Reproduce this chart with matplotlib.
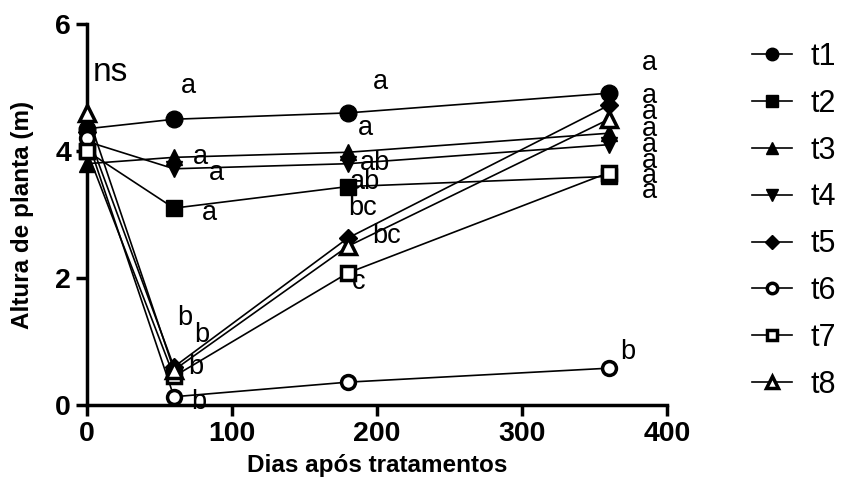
import matplotlib.pyplot as plt

plt.rcParams['font.family'] = ['Liberation Sans', 'DejaVu Sans']

# days after treatment
dias = [0, 60, 180, 360]

t1 = [4.35, 4.50, 4.60, 4.91]
t2 = [4.00, 3.10, 3.44, 3.60]
t3 = [3.80, 3.90, 3.98, 4.28]
t4 = [4.15, 3.72, 3.80, 4.10]
t5 = [4.30, 0.60, 2.63, 4.72]
t6 = [4.20, 0.13, 0.36, 0.58]
t7 = [4.00, 0.45, 2.08, 3.66]
t8 = [4.60, 0.55, 2.50, 4.50]

series = [t1, t2, t3, t4, t5, t6, t7, t8]
nomes = ['t1', 't2', 't3', 't4', 't5', 't6', 't7', 't8']
marcadores = ['o', 's', '^', 'v', 'D', 'o', 's', '^']
cheio = [True, True, True, True, True, False, False, False]
tamanhos = [12, 11, 11, 11, 9, 11, 11, 12]

# letras do teste de medias (x, y, texto)
letras_x = [4, 65, 73, 84, 79, 62, 74, 70, 72,
            197, 187, 188, 181, 180, 197, 183,
            383, 383, 383, 383, 383, 383, 383, 383, 368]
letras_y = [5.23, 5.02, 3.90, 3.65, 3.02, 1.37, 1.10, 0.60, 0.04,
            5.09, 4.36, 3.81, 3.51, 3.10, 2.66, 1.94,
            5.39, 4.87, 4.61, 4.35, 4.10, 3.84, 3.61, 3.37, 0.83]
letras = ['ns', 'a', 'a', 'a', 'a', 'b', 'b', 'b', 'b',
          'a', 'a', 'ab', 'ab', 'bc', 'bc', 'c',
          'a', 'a', 'a', 'a', 'a', 'a', 'a', 'a', 'b']

fig = plt.figure(figsize=(8.41, 5), dpi=100)
ax = fig.add_axes([0.1034, 0.19, 0.6896, 0.762])

for i in range(len(series)):
    if cheio[i]:
        ax.plot(dias, series[i], color='black', lw=1.2, marker=marcadores[i],
                ms=tamanhos[i], mfc='black', mec='black', label=nomes[i],
                clip_on=False, zorder=3)
    else:
        ax.plot(dias, series[i], color='black', lw=1.2, marker=marcadores[i],
                ms=tamanhos[i] - 1, mfc='white', mec='black', mew=2.5,
                label=nomes[i], clip_on=False, zorder=3)

for i in range(len(letras)):
    fs = 24 if letras[i] == 'ns' else 19.5
    ax.text(letras_x[i], letras_y[i], letras[i], fontsize=fs, ha='left',
            va='center', clip_on=False)

ax.set_xlim(0, 400)
ax.set_ylim(0, 6)
ax.set_xticks([0, 100, 200, 300, 400])
ax.set_yticks([0, 2, 4, 6])
for s in ['top', 'right']:
    ax.spines[s].set_visible(False)
for s in ['left', 'bottom']:
    ax.spines[s].set_linewidth(2.5)
ax.tick_params(width=2.5, length=8, labelsize=20.5)
for lab in ax.get_xticklabels() + ax.get_yticklabels():
    lab.set_fontweight('bold')

ax.set_ylabel('Altura de planta (m)', fontsize=17.5, fontweight='bold', labelpad=15)
ax.set_xlabel('Dias após tratamentos', fontsize=17.5, fontweight='bold', labelpad=5)

ax.legend(loc='upper left', bbox_to_anchor=(752 / 841, 1 - 42 / 500),
          bbox_transform=fig.transFigure, frameon=False, fontsize=22,
          borderpad=0, borderaxespad=0, handlelength=1.3, handletextpad=0.6,
          labelspacing=0.55, markerscale=0.75)

plt.savefig('out.png', dpi=100)
